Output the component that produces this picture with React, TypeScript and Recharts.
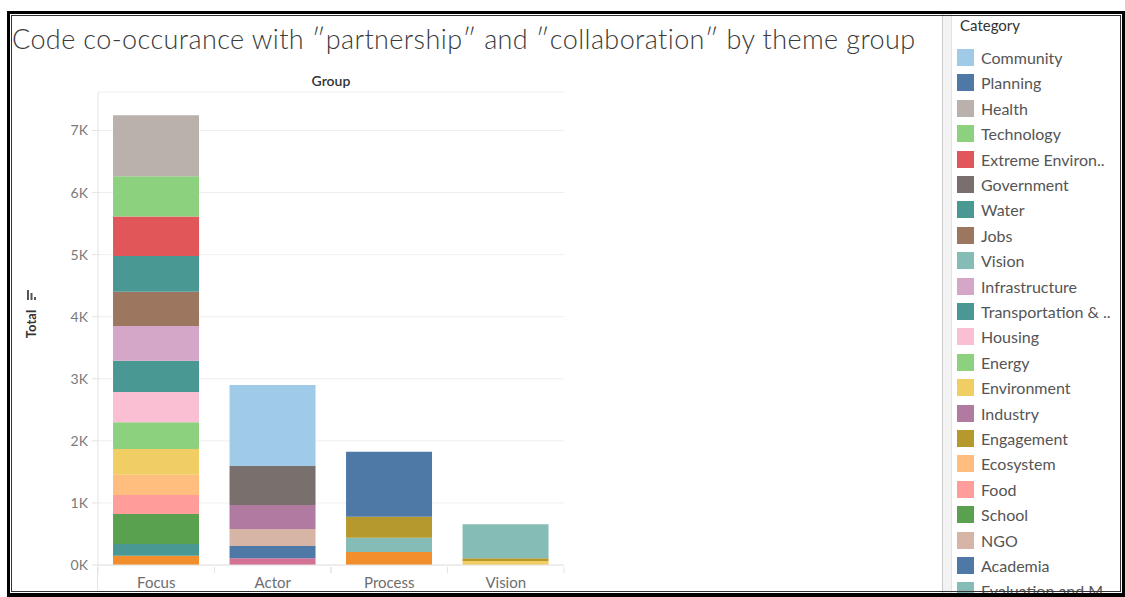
import React from 'react';
import { BarChart, Bar, XAxis, YAxis, CartesianGrid } from 'recharts';

const groups = ['Focus', 'Actor', 'Process', 'Vision'];

// Legend order (top of each stack first)
const categories = [
  'Community', 'Planning', 'Health', 'Technology', 'Extreme Environ..', 'Government', 'Water', 'Jobs',
  'Vision', 'Infrastructure', 'Transportation & ..', 'Housing', 'Energy', 'Environment', 'Industry',
  'Engagement', 'Ecosystem', 'Food', 'School', 'NGO', 'Academia', 'Evaluation and M',
  'Category 23', 'Category 24', 'Category 25', 'Category 26',
];
const visibleLegendCount = 22;

const colors = [
  '#a0cbe8', '#4e79a7', '#bab0ac', '#8cd17d', '#e15759', '#79706e', '#499894', '#9d7660',
  '#86bcb6', '#d4a6c8', '#499894', '#fabfd2', '#8cd17d', '#f1ce63', '#b07aa1',
  '#b6992d', '#ffbe7d', '#ff9d9a', '#59a14f', '#d7b5a6', '#4e79a7', '#86bcb6',
  '#499894', '#f28e2b', '#d37295', '#f1ce63',
];

// Values per group: [Focus, Actor, Process, Vision]
const community = [0, 1305, 0, 0];
const planning = [0, 0, 1046, 0];
const health = [982, 0, 0, 0];
const technology = [649, 0, 0, 0];
const extremeEnviron = [639, 0, 0, 0];
const government = [0, 628, 0, 0];
const water = [575, 0, 0, 0];
const jobs = [552, 0, 0, 0];
const vision = [0, 0, 0, 547];
const infrastructure = [559, 0, 0, 0];
const transportation = [504, 0, 0, 0];
const housing = [488, 0, 0, 0];
const energy = [430, 0, 0, 0];
const environment = [414, 0, 0, 0];
const industry = [0, 386, 0, 0];
const engagement = [0, 0, 338, 44];
const ecosystem = [327, 0, 0, 0];
const food = [306, 0, 0, 0];
const school = [483, 0, 0, 0];
const ngo = [0, 274, 0, 0];
const academia = [0, 198, 0, 0];
const evaluation = [0, 0, 231, 0];
const category23 = [188, 0, 0, 0];
const category24 = [150, 0, 209, 0];
const category25 = [0, 108, 0, 0];
const category26 = [0, 0, 0, 64];

const seriesValues = [
  community, planning, health, technology, extremeEnviron, government, water, jobs,
  vision, infrastructure, transportation, housing, energy, environment, industry,
  engagement, ecosystem, food, school, ngo, academia, evaluation,
  category23, category24, category25, category26,
];

const yTicks = [0, 1000, 2000, 3000, 4000, 5000, 6000, 7000];
const yMax = 7620;

const data = groups.map((g, i) => {
  const row: Record<string, any> = { group: g };
  seriesValues.forEach((vals, j) => {
    row['s' + j] = vals[i];
  });
  return row;
});

const FONT = 'Lato, "Open Sans", sans-serif';

const CHART_W = 940;
const CHART_H = 597;
const MARGIN = { top: 92, right: 376, bottom: 7, left: 38 };
const Y_W = 60;
const X_H = 25;
const plotLeft = MARGIN.left + Y_W;
const plotRight = CHART_W - MARGIN.right;
const bandW = (plotRight - plotLeft) / groups.length;

const XTick = (props: any) => {
  const { x, y, payload } = props;
  return (
    <g>
      <line x1={x - bandW / 2} x2={x - bandW / 2} y1={y} y2={y + 6} stroke="#e3e3e3" />
      <line x1={x + bandW / 2} x2={x + bandW / 2} y1={y} y2={y + 6} stroke="#e3e3e3" />
      <text x={x} y={y + 21} textAnchor="middle" fill="#6e6e6e" fontSize={15} fontFamily={FONT}>
        {payload.value}
      </text>
    </g>
  );
};

export default function App() {
  const order = categories.map((_, i) => i).reverse();
  return (
    <div
      style={{
        position: 'absolute',
        left: 0,
        top: 0,
        width: 1125,
        height: 597,
        background: '#ffffff',
        overflow: 'hidden',
        fontFamily: FONT,
      }}
    >
      <div style={{ position: 'absolute', left: 0, top: 0 }}>
        <BarChart
          width={CHART_W}
          height={CHART_H}
          data={data}
          margin={MARGIN}
          barCategoryGap="12.9%"
        >
          <CartesianGrid vertical={false} stroke="#efefef" />
          <XAxis
            dataKey="group"
            height={X_H}
            axisLine={{ stroke: '#e3e3e3' }}
            tickLine={false}
            tickSize={0}
            tick={<XTick />}
            interval={0}
          />
          <YAxis
            width={Y_W}
            domain={[0, yMax]}
            ticks={yTicks}
            allowDataOverflow
            axisLine={{ stroke: '#e3e3e3' }}
            tickLine={{ stroke: '#e3e3e3' }}
            tickSize={6}
            tickMargin={4}
            tick={{ fill: '#7a7a7a', fontSize: 14, fontFamily: FONT }}
            tickFormatter={(v: number) => `${v / 1000}K`}
          />
          {order.map((j) => (
            <Bar
              key={'s' + j}
              dataKey={'s' + j}
              name={categories[j]}
              stackId="a"
              fill={colors[j]}
              isAnimationActive={false}
            />
          ))}
        </BarChart>
      </div>

      {/* text overlay */}
      <svg
        width={1125}
        height={597}
        style={{ position: 'absolute', left: 0, top: 0, pointerEvents: 'none' }}
      >
        <text x={12} y={49} fontSize={27} letterSpacing={0.4} fill="#3a3a3a" fontFamily={FONT} fontWeight={300}>
          Code co-occurance with ″partnership″ and ″collaboration″ by theme group
        </text>
        <text x={331} y={86} fontSize={14} fill="#333" fontFamily={FONT} fontWeight={600} textAnchor="middle">
          Group
        </text>
        <line x1={plotLeft - 0.5} x2={plotLeft - 0.5} y1={565} y2={590} stroke="#e3e3e3" />
        <text
          x={36}
          y={324}
          fontSize={13}
          fill="#333"
          fontFamily={FONT}
          fontWeight={700}
          textAnchor="middle"
          transform="rotate(-90 36 324)"
        >
          Total
        </text>
        <rect x={27} y={290} width={2} height={10} fill="#555" />
        <rect x={30.5} y={293} width={2} height={7} fill="#555" />
        <rect x={34} y={297} width={2} height={3} fill="#555" />
      </svg>

      {/* legend panel */}
      <div
        style={{
          position: 'absolute',
          left: 942,
          top: 14,
          width: 8,
          height: 583,
          background: '#f3f3f3',
          borderLeft: '1px solid #c9c9c9',
          borderRight: '1px solid #e2e2e2',
        }}
      />
      <div
        style={{
          position: 'absolute',
          left: 960,
          top: 15,
          fontSize: 15,
          color: '#333',
          lineHeight: '20px',
        }}
      >
        Category
      </div>
      <div
        style={{
          position: 'absolute',
          left: 952,
          top: 43,
          width: 170,
          height: 554,
          overflow: 'hidden',
          borderRight: '1px solid #e4e4e4',
        }}
      >
        {categories.slice(0, visibleLegendCount).map((c, i) => (
          <div
            key={c}
            style={{
              position: 'absolute',
              left: 5,
              top: 6 + i * 25.4,
              height: 17,
              display: 'flex',
              alignItems: 'center',
              whiteSpace: 'nowrap',
            }}
          >
            <div style={{ width: 17, height: 17, background: colors[i] }} />
            <div style={{ marginLeft: 7, fontSize: 16, color: '#555', lineHeight: '17px' }}>{c}</div>
          </div>
        ))}
      </div>

      {/* frame */}
      <div
        style={{
          position: 'absolute',
          left: 7,
          top: 11,
          width: 1118,
          height: 586,
          boxSizing: 'border-box',
          borderTop: '3px solid #000',
          borderLeft: '3px solid #000',
          borderRight: '3px solid #000',
          borderBottom: '4px solid #000',
        }}
      />
      <div
        style={{
          position: 'absolute',
          left: 11,
          top: 15,
          width: 1110,
          height: 577,
          boxSizing: 'border-box',
          border: '1px solid #333',
        }}
      />
    </div>
  );
}
